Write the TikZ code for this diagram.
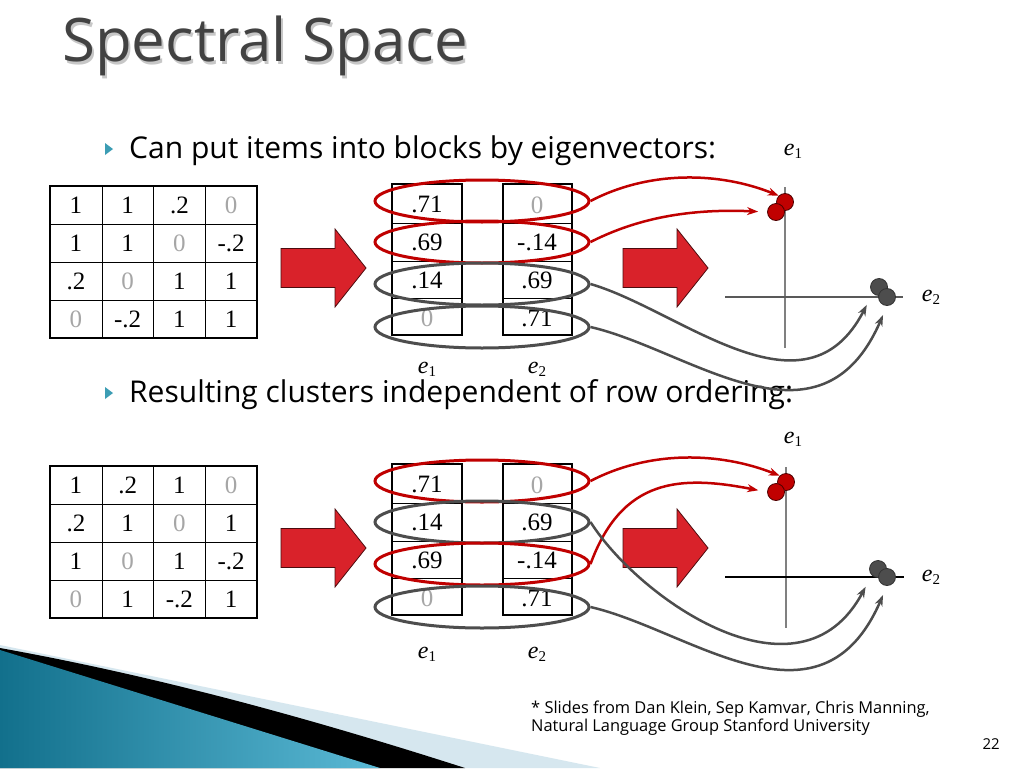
\documentclass[tikz,border=0pt]{standalone}
\usepackage{fontspec}
\setmainfont{Open Sans}
\newfontfamily\tnr{Liberation Serif}
\usetikzlibrary{shapes.geometric,arrows.meta}

\definecolor{clusred}{HTML}{C00000}
\definecolor{clusgray}{HTML}{4D4D4D}
\definecolor{blockred}{HTML}{D9222A}
\definecolor{bullteal}{HTML}{3C9DB4}
\definecolor{zerogray}{HTML}{A6A6A6}
\definecolor{titlegray}{HTML}{424242}
\definecolor{swooshdark}{HTML}{12708C}
\definecolor{swooshlight}{HTML}{5AB9D5}
\definecolor{swooshpale}{HTML}{D6E7EF}

\newcommand{\elab}[1]{{\itshape e}\raisebox{-3pt}{\fontsize{15}{15}\selectfont #1}}

\tikzset{
  num/.style={font=\tnr\fontsize{25}{25}\selectfont, inner sep=0pt},
  zero/.style={num, text=zerogray},
  clus/.style={draw, ellipse, line width=3pt, minimum width=214pt, minimum height=42pt, inner sep=0pt},
  dot/.style={circle, draw, line width=0.8pt, minimum size=17pt, inner sep=0pt},
  link/.style={line width=2.5pt, -{Stealth[length=11pt,width=8pt]}},
  bigarrow/.style={fill=blockred, draw=black!65!blockred, line width=0.8pt},
  elabel/.style={font=\tnr\fontsize{24}{24}\selectfont, inner sep=0pt},
  bullettext/.style={font=\fontsize{30}{32}\selectfont, anchor=base west, inner sep=0pt},
  credit/.style={font=\fontsize{16.4}{19}\selectfont, anchor=base west, inner sep=0pt},
}

\begin{document}
\begin{tikzpicture}[x=1pt,y=-1pt]
\useasboundingbox (0,0) rectangle (1024,768);
\fill[white] (0,0) rectangle (1024,768);

% decoration bottom left
\fill[swooshpale] (0,645) -- (600,768) -- (0,768) -- cycle;
\fill[black] (0,648) .. controls (150,675) and (300,715) .. (465,768) -- (0,768) -- cycle;
\shade[left color=swooshdark, right color=swooshlight] (0,650) -- (380,768) -- (0,768) -- cycle;

% title and bullets
\node[font=\fontsize{60}{60}\selectfont, text=black!22, anchor=base west, inner sep=0pt] (titleshadow) at (64,64) {Spectral Space};
\node[font=\fontsize{60}{60}\selectfont, text=titlegray, anchor=base west, inner sep=0pt] (title) at (62,62) {Spectral Space};
\fill[bullteal] (105,143) -- (113,149) -- (105,155) -- cycle;
\fill[bullteal] (105,387) -- (113,393) -- (105,399) -- cycle;
\node[bullettext] (bullet1) at (129,158) {Can put items into blocks by eigenvectors:};
\node[bullettext] (bullet2) at (129,402) {Resulting clusters independent of row ordering:};

% block arrows
\foreach \x/\y in {281/268, 623/268, 281/548, 623/548}
  \draw[bigarrow] (\x,\y-19.5) -- ++(54,0) -- ++(0,-19.5) -- (\x+85,\y) -- (\x+54,\y+39) -- ++(0,-19.5) -- (\x,\y+19.5) -- cycle;

% ---- first ordering ----
\draw[line width=2.5pt] (50,186) rectangle (257,338);
\foreach \x in {102,153,205} \draw (\x,186) -- (\x,338);
\foreach \y in {224,262,300} \draw (50,\y) -- (257,\y);
\foreach \row [count=\rw] in {{num/1,num/1,num/.2,zero/0},{num/1,num/1,zero/0,num/-.2},{num/.2,zero/0,num/1,num/1},{zero/0,num/-.2,num/1,num/1}}
  \foreach \st/\v [count=\col] in \row
    \node[\st] (ma-\rw-\col) at ({50+51.75*(\col-0.5)},{186+38*(\rw-0.5)}) {\v};

\draw[line width=2.5pt] (392,184) rectangle (462,335);
\draw[line width=2.5pt] (503,184) rectangle (572,335);
\foreach \y in {223,261,298} {\draw (392,\y) -- (462,\y); \draw (503,\y) -- (572,\y);}
\foreach \st/\v [count=\rw] in {num/.71,num/.69,num/.14,zero/0}
  \node[\st] (va-\rw) at (427,{186+37.75*(\rw-0.5)}) {\v};
\foreach \st/\v [count=\rw] in {zero/0,num/-.14,num/.69,num/.71}
  \node[\st] (vb-\rw) at (537,{186+37.75*(\rw-0.5)}) {\v};
\node[elabel] (ea) at (427,369) {\elab{1}};
\node[elabel] (eb) at (537,369) {\elab{2}};

\node[clus, clusred] (rA1) at (482,201) {};
\node[clus, clusred] (rA2) at (482,242) {};
\node[clus, clusgray] (gA1) at (482,284) {};
\node[clus, clusgray] (gA2) at (482,327) {};

\draw[line width=1.5pt, black!50] (785,187) -- (785,348);
\draw[line width=1.2pt, black!65] (725,297) -- (903,297);
\node[elabel] (pa1) at (793,151) {\elab{1}};
\node[elabel] (pa2) at (931,297) {\elab{2}};
\node[dot, fill=clusred, draw=black!60!clusred] (dRa) at (785,202) {};
\node[dot, fill=clusred, draw=black!60!clusred] (dRb) at (776,212) {};
\node[dot, fill=clusgray, draw=black!80] (dGa) at (879,287) {};
\node[dot, fill=clusgray, draw=black!80] (dGb) at (887,297) {};

\draw[link, clusred] (rA1.east) .. controls (650,170) and (720,172) .. (dRa.north west);
\draw[link, clusred, shorten >=9pt] (rA2.east) .. controls (630,222) and (680,208) .. (dRb.west);
\draw[link, clusgray, shorten >=13pt] (gA1.east) .. controls (680,310) and (805,425) .. (dGa.south west);
\draw[link, clusgray, shorten >=10pt] (gA2.east) .. controls (690,350) and (820,460) .. (dGb.south);

% ---- second ordering ----
\draw[line width=2.5pt] (50,466) rectangle (257,618);
\foreach \x in {102,153,205} \draw (\x,466) -- (\x,618);
\foreach \y in {504,542,580} \draw (50,\y) -- (257,\y);
\foreach \row [count=\rw] in {{num/1,num/.2,num/1,zero/0},{num/.2,num/1,zero/0,num/1},{num/1,zero/0,num/1,num/-.2},{zero/0,num/1,num/-.2,num/1}}
  \foreach \st/\v [count=\col] in \row
    \node[\st] (mb-\rw-\col) at ({50+51.75*(\col-0.5)},{466+38*(\rw-0.5)}) {\v};

\draw[line width=2.5pt] (392,464) rectangle (462,615);
\draw[line width=2.5pt] (503,464) rectangle (572,615);
\foreach \y in {503,541,578} {\draw (392,\y) -- (462,\y); \draw (503,\y) -- (572,\y);}
\foreach \st/\v [count=\rw] in {num/.71,num/.14,num/.69,zero/0}
  \node[\st] (vc-\rw) at (427,{466+37.75*(\rw-0.5)}) {\v};
\foreach \st/\v [count=\rw] in {zero/0,num/.69,num/-.14,num/.71}
  \node[\st] (vd-\rw) at (537,{466+37.75*(\rw-0.5)}) {\v};
\node[elabel] (ec) at (427,654) {\elab{1}};
\node[elabel] (ed) at (537,654) {\elab{2}};

\node[clus, clusred] (rB1) at (482,481) {};
\node[clus, clusgray] (gB1) at (482,522) {};
\node[clus, clusred] (rB2) at (482,564) {};
\node[clus, clusgray] (gB2) at (482,607) {};

\draw[line width=1.5pt, black!50] (786,467) -- (786,628);
\draw[line width=1.2pt, black] (725,577) -- (904,577);
\node[elabel] (pb1) at (793,439) {\elab{1}};
\node[elabel] (pb2) at (931,577) {\elab{2}};
\node[dot, fill=clusred, draw=black!60!clusred] (dRc) at (786,482) {};
\node[dot, fill=clusred, draw=black!60!clusred] (dRd) at (776,492) {};
\node[dot, fill=clusgray, draw=black!80] (dGc) at (878,569) {};
\node[dot, fill=clusgray, draw=black!80] (dGd) at (887,577) {};

\draw[link, clusred] (rB1.east) .. controls (650,450) and (720,452) .. (dRc.north west);
\draw[link, clusred, shorten >=9pt] (rB2.east) .. controls (622,478) and (680,475) .. (dRd.west);
\draw[link, clusgray, shorten >=13pt] (gB1.east) .. controls (640,600) and (800,710) .. (dGc.south west);
\draw[link, clusgray, shorten >=10pt] (gB2.east) .. controls (690,630) and (820,740) .. (dGd.south);

% footnote
\node[credit] (credit1) at (531,713) {* Slides from Dan Klein, Sep Kamvar, Chris Manning,};
\node[credit] (credit2) at (531,731) {Natural Language Group Stanford University};
\node[font=\fontsize{15}{18}\selectfont, anchor=base east, inner sep=0pt] (pagenum) at (1000,749) {22};
\end{tikzpicture}
\end{document}
